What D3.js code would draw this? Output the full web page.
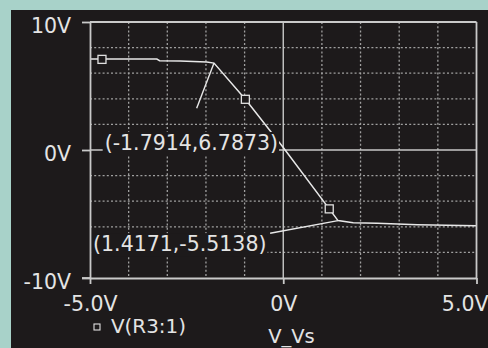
<!DOCTYPE html>
<html><head><meta charset="utf-8">
<script src="https://cdn.jsdelivr.net/npm/d3@7"></script>
<style>
html,body{margin:0;padding:0;background:#a8d2c9;}
svg{display:block;}
text{font-family:"DejaVu Sans",sans-serif;fill:#e4e4e4;}
</style></head>
<body>
<script>
// ---- data ----
const vs = [-5.00, -3.27, -3.20, -2.67, -1.98, -1.7914, -0.98, 0.00, 1.19, 1.4171, 1.81, 2.43, 3.47, 5.00];
const vr3 = [7.10, 7.10, 6.98, 6.96, 6.88, 6.7873, 3.96, 0.20, -4.60, -5.5138, -5.68, -5.73, -5.84, -5.91];
const markerVs = [-4.69, -0.98, 1.19];
const markerV = [7.08, 3.96, -4.60];
const xTicks = [-5, 0, 5];
const xTickLabels = ["-5.0V", "0V", "5.0V"];
const yTicks = [-10, 0, 10];
const yTickLabels = ["-10V", "0V", "10V"];
const xGrid = [-4, -3, -2, -1, 1, 2, 3, 4];
const yGrid = [-8, -6, -4, -2, 2, 4, 6, 8];
const cursorText = ["(-1.7914,6.7873)", "(1.4171,-5.5138)"];
const cursorPt = [[-1.7914, 6.7873], [1.4171, -5.5138]];
const cursorFrom = [[-2.24, 3.26], [-0.34, -6.50]];
const cursorLabelAt = [[-4.62, 0.0], [-4.92, -7.9]];
const legendText = "V(R3:1)";
const xTitle = "V_Vs";

// ---- layout ----
const W = 488, H = 348;
const svg = d3.select("body").append("svg").attr("width", W).attr("height", H);
svg.append("rect").attr("x", 11).attr("y", 10).attr("width", W - 11).attr("height", H - 10).attr("fill", "#1d1a1b");

const x = d3.scaleLinear().domain([-5, 5]).range([90, 476.5]);
const y = d3.scaleLinear().domain([-10, 10]).range([278, 22]);
const FS = 20.5;
const lineCol = "#c9c9c9";

// grid
const g = svg.append("g");
g.selectAll(".vg").data(xGrid).join("line")
  .attr("x1", d => x(d)).attr("x2", d => x(d)).attr("y1", y(10)).attr("y2", y(-10))
  .attr("stroke", "#a0a0a0").attr("stroke-width", 1.3).attr("stroke-dasharray", "2,2.2");
g.selectAll(".hg").data(yGrid).join("line")
  .attr("y1", d => y(d)).attr("y2", d => y(d)).attr("x1", x(-5)).attr("x2", x(5))
  .attr("stroke", "#a0a0a0").attr("stroke-width", 1.3).attr("stroke-dasharray", "2,2.2");
// zero lines
g.append("line").attr("x1", x(0)).attr("x2", x(0)).attr("y1", y(10)).attr("y2", y(-10))
  .attr("stroke", lineCol).attr("stroke-width", 1.4);
g.append("line").attr("x1", x(-5)).attr("x2", x(5)).attr("y1", y(0)).attr("y2", y(0))
  .attr("stroke", lineCol).attr("stroke-width", 1.4);

// curve
const pts = vs.map((v, i) => [v, vr3[i]]);
svg.append("path").datum(pts)
  .attr("d", d3.line().x(d => x(d[0])).y(d => y(d[1])))
  .attr("fill", "none").attr("stroke", "#e8e8e8").attr("stroke-width", 1.5);

// cursor leader lines
svg.selectAll(".lead").data(cursorPt).join("line")
  .attr("x1", (d, i) => x(cursorFrom[i][0])).attr("y1", (d, i) => y(cursorFrom[i][1]))
  .attr("x2", d => x(d[0])).attr("y2", d => y(d[1]))
  .attr("stroke", "#e8e8e8").attr("stroke-width", 1.4);

// cursor labels with background
cursorText.forEach((t, i) => {
  const tx = x(cursorLabelAt[i][0]), ty = y(cursorLabelAt[i][1]);
  const txt = svg.append("text").attr("x", tx).attr("y", ty).attr("font-size", FS).text(t);
  const bb = txt.node().getBBox();
  svg.insert("rect", () => txt.node())
    .attr("x", bb.x - 2).attr("y", bb.y + 1).attr("width", bb.width + 3).attr("height", bb.height - 1)
    .attr("fill", "#1d1a1b");
});

// markers
svg.selectAll(".mk").data(markerVs).join("rect")
  .attr("x", d => x(d) - 4).attr("y", (d, i) => y(markerV[i]) - 4)
  .attr("width", 8).attr("height", 8)
  .attr("fill", "#1d1a1b").attr("stroke", "#e0e0e0").attr("stroke-width", 1.3);

// frame
const fr = svg.append("g").attr("stroke", lineCol).attr("stroke-width", 1.8).attr("fill", "none");
fr.append("line").attr("x1", x(-5)).attr("x2", x(5)).attr("y1", y(10)).attr("y2", y(10));
fr.append("line").attr("x1", x(5)).attr("x2", x(5)).attr("y1", y(10)).attr("y2", y(-10));

// axes
const ya = svg.append("g").attr("transform", `translate(${x(-5)},0)`)
  .call(d3.axisLeft(y).tickValues(yTicks).tickSize(8).tickSizeOuter(0)
    .tickFormat((d, i) => yTickLabels[i]));
ya.select(".domain").attr("stroke", lineCol).attr("stroke-width", 1.8);
ya.selectAll(".tick line").attr("stroke", lineCol).attr("stroke-width", 1.8);
ya.selectAll(".tick text").attr("x", -19).attr("dy", "0.5em")
  .attr("font-size", FS).attr("font-family", "DejaVu Sans").attr("fill", "#e4e4e4");

const xa = svg.append("g").attr("transform", `translate(0,${y(-10)})`)
  .call(d3.axisBottom(x).tickValues(xTicks).tickSize(6).tickSizeOuter(0)
    .tickFormat((d, i) => xTickLabels[i]));
xa.select(".domain").attr("stroke", lineCol).attr("stroke-width", 1.8);
xa.selectAll(".tick line").attr("stroke", lineCol).attr("stroke-width", 1.8);
xa.selectAll(".tick text").attr("y", 33).attr("dy", 0)
  .attr("font-size", FS).attr("font-family", "DejaVu Sans").attr("fill", "#e4e4e4");
xa.selectAll(".tick text").filter((d, i) => i === xTicks.length - 1)
  .attr("text-anchor", "end").attr("x", W - x(5));
svg.append("line").attr("x1", x(-5) - 8).attr("x2", x(-5)).attr("y1", y(-10)).attr("y2", y(-10))
  .attr("stroke", lineCol).attr("stroke-width", 1.8);

// legend
svg.append("rect").attr("x", 94).attr("y", 324).attr("width", 6).attr("height", 6)
  .attr("fill", "none").attr("stroke", "#e0e0e0").attr("stroke-width", 1.1);
svg.append("text").attr("x", 111).attr("y", 333).attr("font-size", FS * 0.97).text(legendText);
svg.append("text").attr("x", 291.5).attr("y", 343).attr("text-anchor", "middle")
  .attr("font-size", FS * 0.95).text(xTitle);
</script>
</body></html>
